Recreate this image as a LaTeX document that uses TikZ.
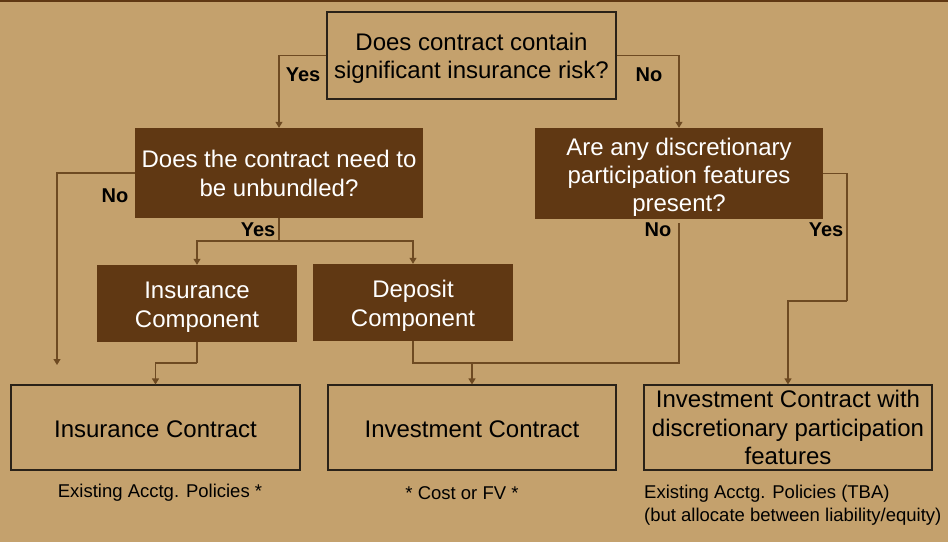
\documentclass[tikz,border=0pt]{standalone}
\usepackage{fontspec}
\setmainfont{Liberation Sans}
\usetikzlibrary{arrows.meta}
\definecolor{bgtan}{HTML}{C4A16D}
\definecolor{darkbrown}{HTML}{603813}
\definecolor{linebrown}{HTML}{6E4A22}
\definecolor{edgedark}{HTML}{2A2218}
\begin{document}
\begin{tikzpicture}[x=1pt,y=-1pt,
  tanbox/.style={draw=edgedark,line width=1.1pt,fill=bgtan,align=center,inner sep=0pt,
     font=\fontsize{24}{28.5}\selectfont,text=black},
  brownbox/.style={fill=darkbrown,align=center,inner sep=0pt,
     font=\fontsize{24}{29}\selectfont,text=white},
  tantext/.style={align=center,inner sep=0pt,font=\fontsize{24}{28.5}\selectfont,text=black},
  browntext/.style={align=center,inner sep=0pt,font=\fontsize{24}{28.5}\selectfont,text=white},
  conn/.style={draw=linebrown,line width=1.1pt},
  arr/.style={conn,-{Triangle[width=7pt,length=6pt]}},
  lbl/.style={font=\fontsize{20}{24}\selectfont\bfseries,text=black,inner sep=0pt},
  note/.style={font=\fontsize{18.5}{22.5}\selectfont,text=black,inner sep=0pt}]
\useasboundingbox (0,0) rectangle (948,542);
\fill[bgtan] (0,0) rectangle (948,542);
\fill[darkbrown] (0,0) rectangle (948,2);

% nodes
\node[tanbox,minimum width=289pt,minimum height=87pt] (top) at (471.5,55.5) {};
\node[tantext] (topt) at ([yshift=-3pt]top.center)
  {Does contract contain\\significant insurance risk?};
\node[brownbox,minimum width=288pt,minimum height=90pt] (unb) at (279,173)
  {Does the contract need to\\be unbundled?};
\node[brownbox,minimum width=288pt,minimum height=91pt] (disc) at (679,173.5) {};
\node[browntext,font=\fontsize{24}{28}\selectfont] (disct) at ([yshift=-4pt]disc.center)
  {Are any discretionary\\participation features\\present?};
\node[brownbox,minimum width=200pt,minimum height=77pt] (inscomp) at (197,303.5) {};
\node[browntext] (inscompt) at ([yshift=-3.5pt]inscomp.center) {Insurance\\Component};
\node[brownbox,minimum width=200pt,minimum height=77pt] (depcomp) at (413,302.5) {};
\node[browntext] (depcompt) at ([yshift=-3.5pt]depcomp.center) {Deposit\\Component};
\node[tanbox,minimum width=289pt,minimum height=85pt] (inscon) at (155.5,427.5) {};
\node[tantext] (inscont) at ([yshift=-1.5pt]inscon.center) {Insurance Contract};
\node[tanbox,minimum width=288pt,minimum height=85pt] (invcon) at (472,427.5) {};
\node[tantext] (invcont) at ([yshift=-1.5pt]invcon.center) {Investment Contract};
\node[tanbox,minimum width=288pt,minimum height=85pt] (invdpf) at (788,427.5)
  {Investment Contract with\\discretionary participation\\features};

% junction coordinates
\coordinate (nofree) at (57,365);
\coordinate (yj) at (279,241);
\coordinate (ij) at (197,363);
\coordinate (dj) at (413,363);
\coordinate (vj) at (472,363);
\coordinate (ds) at (679,223);
\coordinate (yr) at (847,301);

% connectors
\draw[arr] (top.west) -| (unb.north);
\draw[arr] (top.east) -| (disc.north);
\draw[arr] (unb.west) -| (nofree);
\draw[conn] (unb.south) -- (yj);
\draw[arr] (yj) -| (inscomp.north);
\draw[arr] (yj) -| (depcomp.north);
\draw[conn] (inscomp.south) -- (ij);
\draw[arr] (ij) -| (inscon.north);
\draw[conn] (depcomp.south) -- (dj) -- (vj);
\draw[conn] (ds) |- (vj);
\draw[arr] (vj) -- (invcon.north);
\draw[conn] (disc.east) -| (yr);
\draw[arr] (yr) -| (invdpf.north);

% labels
\node[lbl] (l1) at (303,75) {Yes};
\node[lbl] (l2) at (649,75) {No};
\node[lbl] (l3) at (115,196) {No};
\node[lbl] (l4) at (258,230) {Yes};
\node[lbl] (l5) at (658,230) {No};
\node[lbl] (l6) at (826,230) {Yes};

% notes
\node[note] (n1) at (160,493) {Existing Acctg. Policies *};
\node[note] (n2) at (462,493) {* Cost or FV *};
\node[note,anchor=north west,align=left] (n3) at (644,485)
  {Existing Acctg. Policies (TBA)\\(but allocate between liability/equity)};
\end{tikzpicture}
\end{document}
